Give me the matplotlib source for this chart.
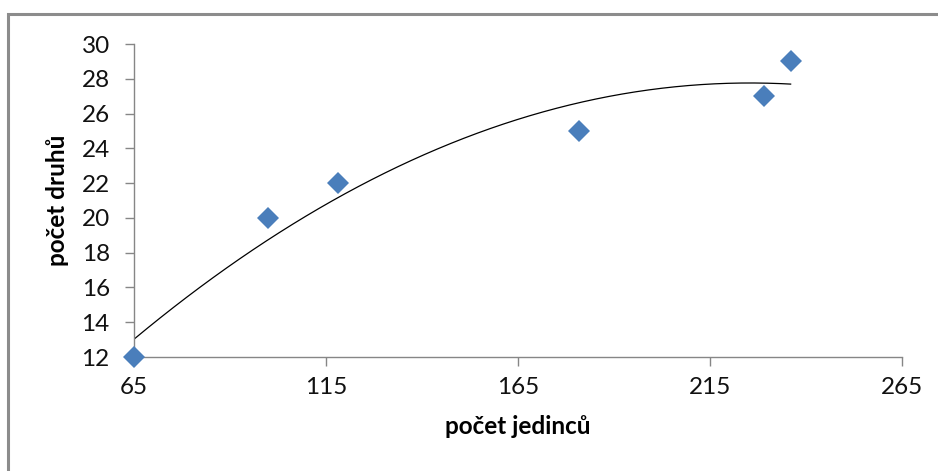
import numpy as np
import matplotlib.pyplot as plt
from matplotlib.patches import Rectangle

plt.rcParams["font.family"] = ["Lato", "DejaVu Sans"]

# počet jedinců / počet druhů
jedinci = [65, 100, 118, 181, 229, 236]
druhy = [12, 20, 22, 25, 27, 29]

x_ticks = [65, 115, 165, 215, 265]
y_ticks = [12, 14, 16, 18, 20, 22, 24, 26, 28, 30]

axis_grey = "#868686"
marker_blue = "#4a7ebb"

fig = plt.figure(figsize=(9.38, 4.71), dpi=100)
fig.patches.append(
    Rectangle((8 / 938, -0.05), 1.2, 1 - 14 / 471 + 0.05,
              transform=fig.transFigure, fill=False,
              edgecolor="#8c8c8c", linewidth=2.2)
)

ax = fig.add_axes([134 / 938, 1 - 357 / 471, 768 / 938, 313 / 471])

# polynomial (2nd order) trendline over the data range
coef = np.polyfit(jedinci, druhy, 2)
xs = np.linspace(min(jedinci), max(jedinci), 200)
ax.plot(xs, np.polyval(coef, xs), color="black", linewidth=0.9, zorder=2)

ax.plot(jedinci, druhy, linestyle="none", marker="D", markersize=11,
        color=marker_blue, markeredgewidth=0, zorder=3, clip_on=False)

ax.set_xlim(65, 265)
ax.set_ylim(12, 30)
ax.set_xticks(x_ticks)
ax.set_yticks(y_ticks)

for side in ("top", "right"):
    ax.spines[side].set_visible(False)
for side in ("left", "bottom"):
    ax.spines[side].set_color(axis_grey)
    ax.spines[side].set_linewidth(1.0)

ax.tick_params(axis="both", direction="out", length=6.5, width=1.0,
               color=axis_grey, labelsize=17.5, labelcolor="#111111")
ax.tick_params(axis="y", pad=11)
ax.tick_params(axis="x", pad=8)

ax.set_xlabel("počet jedinců", fontsize=17.5, fontweight="bold", labelpad=12)
ax.set_ylabel("počet druhů", fontsize=17.5, fontweight="bold", labelpad=9)

fig.savefig("out.png", dpi=100)
